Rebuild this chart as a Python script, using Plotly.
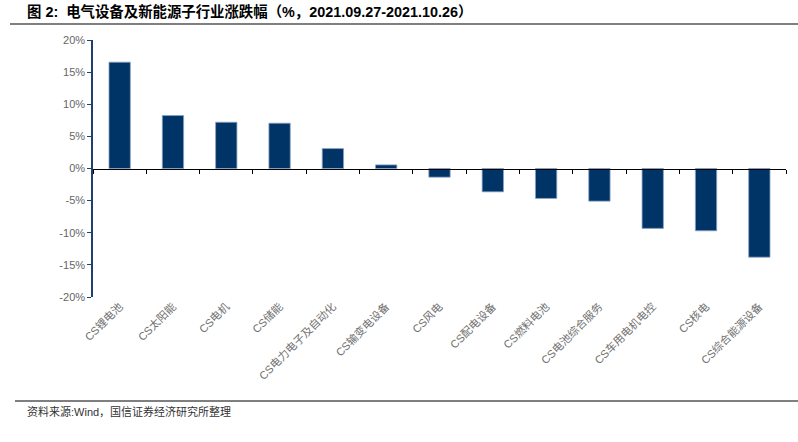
import plotly.graph_objects as go

categories = ["CS锂电池", "CS太阳能", "CS电机", "CS储能", "CS电力电子及自动化", "CS输变电设备",
              "CS风电", "CS配电设备", "CS燃料电池", "CS电池综合服务", "CS车用电机电控", "CS核电",
              "CS综合能源设备"]
values = [16.55, 8.24, 7.2, 7.05, 3.1, 0.56, -1.35, -3.63, -4.66, -5.08, -9.32, -9.69, -13.8]
ytick_vals = [-20, -15, -10, -5, 0, 5, 10, 15, 20]
ytick_text = ["-20%", "-15%", "-10%", "-5%", "0%", "5%", "10%", "15%", "20%"]

title_text = "图 2:  电气设备及新能源子行业涨跌幅（%，2021.09.27-2021.10.26）"
source_text = "资料来源:Wind，国信证券经济研究所整理"

W, H = 798, 442
L, R, T, B = 93, 12, 40, 145
pw, ph = W - L - R, H - T - B

def px_x(x):
    return (x - L) / pw

def px_y(y):
    return (H - B - y) / ph

bar_color = "#003366"
axis_blue = "#1F3F6E"
label_font = "Liberation Sans, Noto Sans CJK SC, sans-serif"

fig = go.Figure()
fig.add_trace(go.Bar(
    x=categories, y=values,
    marker=dict(color=bar_color, line=dict(color="#8aa2c4", width=0.8)),
    xaxis="x", yaxis="y", showlegend=False, hoverinfo="x+y",
))
# invisible trace to drive the zero-crossing axis with boundary ticks
fig.add_trace(go.Scatter(
    x=categories, y=[0] * len(categories), mode="none",
    xaxis="x2", yaxis="y", showlegend=False, hoverinfo="skip",
))

fig.update_layout(
    width=W, height=H,
    margin=dict(l=L, r=R, t=T, b=B, autoexpand=False),
    paper_bgcolor="white", plot_bgcolor="white",
    bargap=0.6,
    xaxis=dict(
        type="category", showline=False, showgrid=False, zeroline=False,
        ticks="", tickangle=-45, automargin=False,
        tickfont=dict(family="Liberation Sans, Noto Sans CJK SC, sans-serif", size=11, color="#707070"),
    ),
    xaxis2=dict(
        type="category", overlaying="x", matches="x", anchor="free", position=0.5,
        side="bottom", showline=True, linecolor="black", linewidth=1.2,
        ticks="outside", tickson="boundaries", ticklen=4, tickcolor="black",
        showticklabels=False, showgrid=False, zeroline=False,
    ),
    yaxis=dict(
        range=[-20, 20], tickvals=ytick_vals, ticktext=ytick_text,
        showline=True, linecolor=axis_blue, linewidth=1.5,
        ticks="outside", ticklen=4, tickcolor=axis_blue,
        showgrid=False, zeroline=False, automargin=False,
        tickfont=dict(family=label_font, size=11, color="#666666"),
    ),
    font=dict(family=label_font),
)

fig.add_annotation(
    text="<b>" + title_text + "</b>", xref="paper", yref="paper",
    x=px_x(25), y=px_y(12), xanchor="left", yanchor="middle", showarrow=False,
    font=dict(family="Liberation Sans, Noto Sans CJK SC, sans-serif", size=14.4, color="black"),
)
fig.add_shape(type="line", xref="paper", yref="paper",
              x0=px_x(10), x1=px_x(798), y0=px_y(24), y1=px_y(24),
              line=dict(color="#555555", width=1.5))
fig.add_shape(type="line", xref="paper", yref="paper",
              x0=px_x(15), x1=px_x(798), y0=px_y(401), y1=px_y(401),
              line=dict(color="#555555", width=1.5))
fig.add_annotation(
    text=source_text, xref="paper", yref="paper",
    x=px_x(25), y=px_y(411), xanchor="left", yanchor="middle", showarrow=False,
    font=dict(family="Liberation Sans, Noto Sans CJK SC, sans-serif", size=11, color="#333333"),
)

fig.write_html("out.html", config={"displayModeBar": False},
               post_script="document.body.style.margin='0';")
